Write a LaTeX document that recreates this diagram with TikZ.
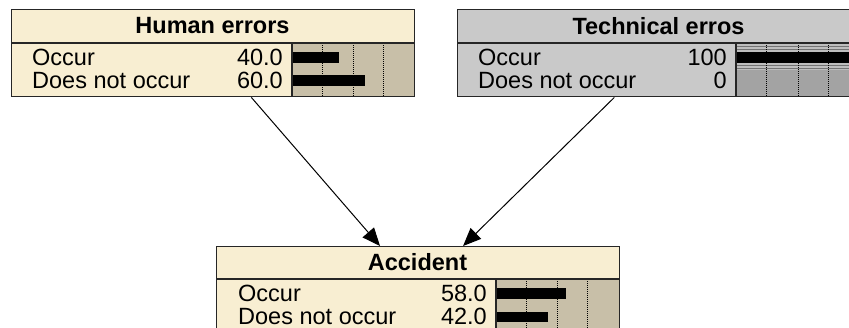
\documentclass[tikz,border=0pt]{standalone}
\usepackage{fontspec}
\setmainfont{Liberation Sans}
\usetikzlibrary{arrows.meta}
\definecolor{nodecream}{RGB}{248,238,210}
\definecolor{bartan}{RGB}{200,191,168}
\definecolor{nodegray}{RGB}{201,201,201}
\definecolor{bandgray}{RGB}{190,190,190}
\definecolor{bargray}{RGB}{163,163,163}
\tikzset{
  boxframe/.style={draw=black!85, line width=1.4pt, minimum width=403pt, minimum height=87pt, inner sep=0pt, anchor=north west},
  boxline/.style={draw=black!85, line width=1.4pt},
  headtext/.style={font=\bfseries\fontsize{23.5}{28}\selectfont, inner sep=0pt},
  statetext/.style={font=\fontsize{23.5}{28}\selectfont, inner sep=0pt, anchor=west},
  valtext/.style={font=\fontsize{23.5}{28}\selectfont, inner sep=0pt, anchor=east},
  gridline/.style={densely dotted, line width=1pt},
  linkarrow/.style={line width=1pt, -{Triangle[length=18pt,width=15pt]}}
}

\begin{document}
\begin{tikzpicture}[x=1pt, y=-1pt]
		\useasboundingbox (0,0) rectangle (849,327);
		\clip (0,0) rectangle (849,327);
		%%%%% HUMAN ERRORS %%%%%
		\fill[nodecream] (11,9) rectangle (414,96);
		\fill[bartan] (292,43) rectangle (414,96);
		\foreach \x in {322,353,383} \draw[gridline] (\x,43) -- (\x,96);
		\fill (292,52) rectangle (339,63);
		\fill (292,75) rectangle (365,86);
		\draw[boxline] (11,43) -- (414,43);
		\draw[boxline] (292,43) -- (292,96);
		\node[boxframe] (human) at (11,9) {};
		\node[headtext] (humantitle) at (212.5,26) {Human errors};
		\node[statetext] (humanyes) at (32,57.5) {Occur};
		\node[statetext] (humanno) at (32,80.5) {Does not occur};
		\node[valtext] (humanyesval) at (283,57.5) {40.0};
		\node[valtext] (humannoval) at (283,80.5) {60.0};
		
		%%%%% TECHNICAL ERROS %%%%%
		\fill[nodegray] (457,9) rectangle (860,96);
		\fill[bargray] (736,43) rectangle (860,96);
		\fill[bandgray] (736,43) rectangle (860,70);
		\foreach \y in {46,49,65,68} \draw[black!55, line width=0.8pt] (736,\y) -- (860,\y);
		\foreach \x in {766,798,828} \draw[gridline] (\x,43) -- (\x,96);
		\fill (736,52) rectangle (860,63);
		\draw[boxline] (457,43) -- (860,43);
		\draw[boxline] (736,43) -- (736,96);
		\node[boxframe] (technical) at (457,9) {};
		\node[headtext] (technicaltitle) at (658.5,26) {Technical erros};
		\node[statetext] (technicalyes) at (478,57.5) {Occur};
		\node[statetext] (technicalno) at (478,80.5) {Does not occur};
		\node[valtext] (technicalyesval) at (727,57.5) {100};
		\node[valtext] (technicalnoval) at (727,80.5) {0};
		
		%%%%% ACCIDENT %%%%%
		\fill[nodecream] (216,246) rectangle (619,333);
		\fill[bartan] (496,279) rectangle (619,333);
		\foreach \x in {526.5,557,587.5} \draw[gridline] (\x,279) -- (\x,333);
		\fill (496,288) rectangle (566,299);
		\fill (496,312) rectangle (548,322);
		\draw[boxline] (216,279) -- (619,279);
		\draw[boxline] (496,279) -- (496,333);
		\node[boxframe] (accident) at (216,246) {};
		\node[headtext] (accidenttitle) at (417.5,262.5) {Accident};
		\node[statetext] (accidentyes) at (238,293.5) {Occur};
		\node[statetext] (accidentno) at (238,316.5) {Does not occur};
		\node[valtext] (accidentyesval) at (487,293.5) {58.0};
		\node[valtext] (accidentnoval) at (487,316.5) {42.0};
		
		%%%%% LINKS %%%%%
		\draw[linkarrow] (human) -- (accident);
		\draw[linkarrow] (technical) -- (accident);
\end{tikzpicture}
\end{document}
